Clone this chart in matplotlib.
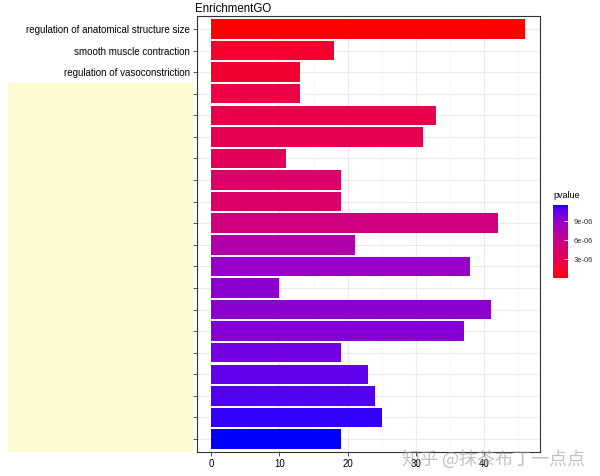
import numpy as np
import matplotlib
matplotlib.use('Agg')
import matplotlib.pyplot as plt
from matplotlib.colors import ListedColormap, Normalize
from matplotlib.patches import Rectangle
from matplotlib.ticker import FuncFormatter

# terms from top to bottom (most of the labels are hidden under the yellow box)
terms = ['regulation of anatomical structure size', 'smooth muscle contraction',
         'regulation of vasoconstriction'] + [''] * 17
counts = [46, 18, 13, 13, 33, 31, 11, 19, 19, 42, 21, 38, 10, 41, 37, 19, 23, 24, 25, 19]
pvalues = [5e-8, 1.4e-6, 1.6e-6, 2.4e-6, 2.7e-6, 3.0e-6, 3.5e-6, 4.1e-6, 4.1e-6, 5.4e-6,
           7.5e-6, 8.9e-6, 9.3e-6, 9.3e-6, 9.6e-6, 1.02e-5, 1.06e-5, 1.09e-5, 1.13e-5, 1.16e-5]
cbar_ticks = [3e-6, 6e-6, 9e-6]


def srgb_to_lab(c):
    c = np.asarray(c, float)
    lin = np.where(c > 0.04045, ((c + 0.055) / 1.055) ** 2.4, c / 12.92)
    M = np.array([[0.4124, 0.3576, 0.1805], [0.2126, 0.7152, 0.0722], [0.0193, 0.1192, 0.9505]])
    xyz = M @ lin / np.array([0.95047, 1.0, 1.08883])
    f = np.where(xyz > 0.008856, np.cbrt(xyz), 7.787 * xyz + 16 / 116)
    return np.array([116 * f[1] - 16, 500 * (f[0] - f[1]), 200 * (f[1] - f[2])])


def lab_to_srgb(lab):
    L, a, b = lab
    fy = (L + 16) / 116
    f = np.array([fy + a / 500, fy, fy - b / 200])
    xyz = np.where(f ** 3 > 0.008856, f ** 3, (f - 16 / 116) / 7.787) * np.array([0.95047, 1.0, 1.08883])
    Minv = np.array([[3.2406, -1.5372, -0.4986], [-0.9689, 1.8758, 0.0415], [0.0557, -0.2040, 1.0570]])
    lin = np.clip(Minv @ xyz, 0, 1)
    return np.clip(np.where(lin > 0.0031308, 1.055 * lin ** (1 / 2.4) - 0.055, 12.92 * lin), 0, 1)


# ggplot-like red -> blue gradient (interpolated in Lab)
lab_lo = srgb_to_lab([1, 0, 0])
lab_hi = srgb_to_lab([0, 0, 1])
cmap = ListedColormap([lab_to_srgb(lab_lo + t * (lab_hi - lab_lo)) for t in np.linspace(0, 1, 256)])
norm = Normalize(vmin=min(pvalues), vmax=max(pvalues))

plt.rcParams['font.family'] = ['Liberation Sans', 'DejaVu Sans']

fig = plt.figure(figsize=(6, 4.76), dpi=100)
ax = fig.add_axes([0.3283, 0.0504, 0.5717, 0.916])

n = len(terms)
ypos = np.arange(n, 0, -1)
ax.barh(ypos, counts, height=0.9, color=cmap(norm(np.array(pvalues))), zorder=3)

ax.set_xlim(-2.1, 48.2)
ax.set_ylim(0.4, n + 0.6)
ax.set_xticks([0, 10, 20, 30, 40])
ax.set_xticks([5, 15, 25, 35, 45], minor=True)
ax.set_yticks(ypos)
ax.set_yticklabels(terms)
ax.grid(which='major', color='#EBEBEB', lw=0.8, zorder=0)
ax.grid(which='minor', axis='x', color='#F4F4F4', lw=0.5, zorder=0)
ax.tick_params(axis='both', which='major', length=3, width=0.6, color='#333333',
               labelsize=7, labelcolor='black', pad=2)
ax.tick_params(axis='x', which='minor', length=0)
for s in ax.spines.values():
    s.set_color('#333333')
    s.set_linewidth(0.8)
ax.set_title('EnrichmentGO', loc='left', fontsize=8.3, pad=3, x=-0.005)

# yellow box covering the other labels
fig.patches.append(Rectangle((8 / 600, 0.0504), 185 / 600, (452 - 83) / 476,
                             transform=fig.transFigure, facecolor='#FDFACF', edgecolor='none', zorder=5))

# colour bar
cax = fig.add_axes([553 / 600, 1 - 278 / 476, 15 / 600, 73 / 476])
cb = fig.colorbar(plt.cm.ScalarMappable(norm=norm, cmap=cmap), cax=cax)
cb.outline.set_visible(False)
cb.set_ticks(cbar_ticks)
cb.ax.yaxis.set_major_formatter(FuncFormatter(lambda v, p: '%.0e' % v))
cb.ax.tick_params(length=3, width=0.6, color='white', direction='in', labelsize=5.5,
                  labelcolor='#333333', pad=4)
cax.set_title('pvalue', fontsize=6.5, loc='left', pad=5)

fig.text(0.975, 0.035, '知乎 @抹茶布丁一点点', ha='right', va='center', fontsize=13,
         color='#999999', alpha=0.6, family=['Noto Sans CJK SC', 'DejaVu Sans'])

fig.savefig('out.png', dpi=100)
